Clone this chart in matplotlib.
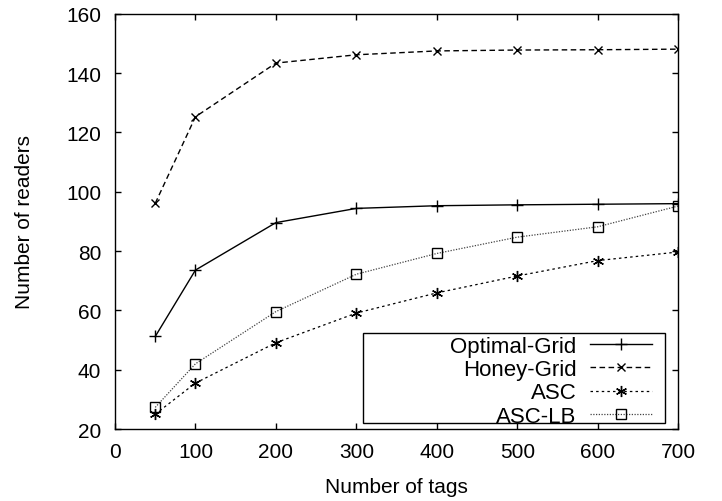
import matplotlib.pyplot as plt
from matplotlib.patches import Rectangle

plt.rcParams['font.family'] = ['Liberation Sans', 'DejaVu Sans']

# Data
tags = [50, 100, 200, 300, 400, 500, 600, 700]
optimal_grid = [51.2, 73.6, 89.6, 94.4, 95.3, 95.6, 95.8, 96.0]
honey_grid = [96.1, 125.3, 143.4, 146.2, 147.5, 147.8, 147.9, 148.1]
asc = [25.0, 35.5, 49.1, 59.1, 65.9, 71.6, 76.8, 79.7]
asc_lb = [27.3, 42.0, 59.6, 72.2, 79.2, 84.7, 88.2, 95.2]

fig = plt.figure(figsize=(7.22, 5.02), dpi=100)
ax = fig.add_axes([0.1593, 0.1434, 0.780, 0.827])

ax.plot(tags, optimal_grid, color='black', lw=1.0, ls='-', marker='+', ms=9, mew=1.0,
        label='Optimal-Grid')
ax.plot(tags, honey_grid, color='black', lw=1.0, ls=(0, (4, 2.5)), marker='x', ms=6, mew=1.0,
        label='Honey-Grid')
ax.plot(tags, asc, color='black', lw=0.9, ls=(0, (2, 2.5)), marker=(6, 2, 0), ms=8, mew=1.0,
        label='ASC')
ax.plot(tags, asc_lb, color='#444444', lw=0.9, ls=(0, (1, 1.2)), marker='s', ms=7, mew=1.0,
        mfc='none', mec='black', label='ASC-LB')

ax.set_xlim(0, 700)
ax.set_ylim(20, 160)
ax.set_xticks(range(0, 701, 100))
ax.set_yticks(range(20, 161, 20))
ax.tick_params(direction='in', top=True, right=True, length=4.5, width=1,
               labelsize=15)
ax.tick_params(axis='y', pad=10)
ax.tick_params(axis='x', pad=9)
for s in ax.spines.values():
    s.set_linewidth(1.0)

ax.set_xlabel('Number of tags', fontsize=15, labelpad=12)
ax.set_ylabel('Number of readers', fontsize=15, labelpad=23)

# legend box like gnuplot: labels right-aligned, samples on the right
ax.add_patch(Rectangle((0.4405, 0.0144), 0.5365, 0.217, transform=ax.transAxes,
                       fill=False, edgecolor='black', lw=1.0, zorder=4))
leg = ax.legend(loc='lower right', bbox_to_anchor=(0.954, 0.006), markerfirst=False,
                fontsize=16, handlelength=2.8, frameon=False, borderaxespad=0,
                labelspacing=0.1, handletextpad=0.6, borderpad=0)

fig.savefig('out.png', dpi=100)
